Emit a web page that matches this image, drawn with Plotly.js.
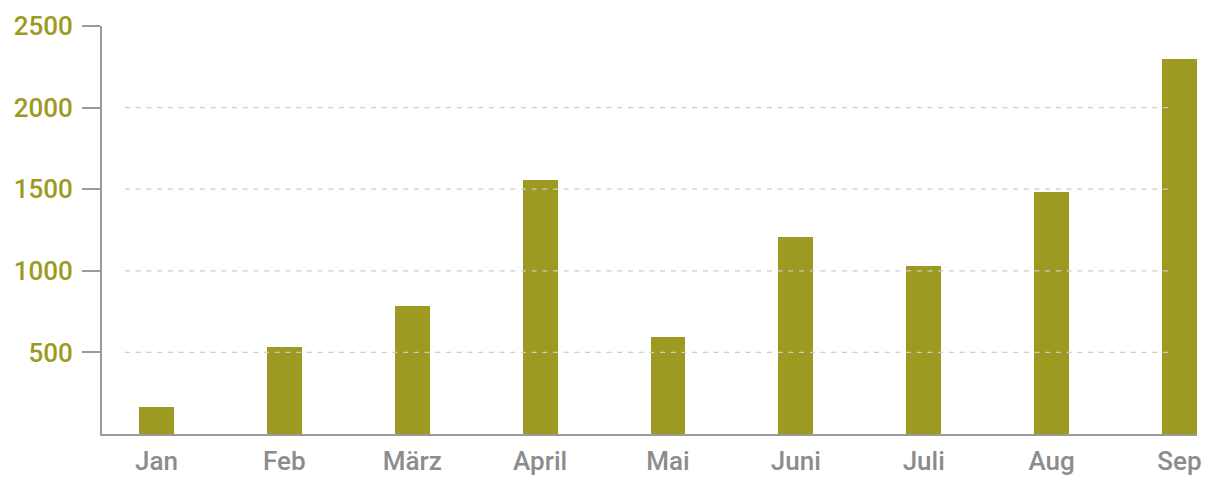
<!DOCTYPE html>
<html>
<head>
<meta charset="utf-8">
<script src="https://cdn.plot.ly/plotly-3.0.1.min.js"></script>
<style>html,body{margin:0;padding:0;background:#fff;}#chart{width:1206px;height:477px;}</style>
</head>
<body>
<div id="chart"></div>
<script>
const months = ["Jan", "Feb", "März", "April", "Mai", "Juni", "Juli", "Aug", "Sep"];
const values = [164, 533, 784, 1556, 594, 1207, 1029, 1485, 2298];
const yTicks = [500, 1000, 1500, 2000, 2500];
const gridValues = [500, 1000, 1500, 2000];

const olive = "#9c9a21";
const axisGray = "#9a9a9a";
const labelGray = "#8c8c8c";
const fontFam = "Roboto, 'Noto Sans', sans-serif";

const trace = {
  type: "bar",
  x: months,
  y: values,
  width: 0.273,
  marker: {color: olive, line: {width: 0}},
  hoverinfo: "x+y"
};

const shapes = gridValues.map(v => ({
  type: "line", xref: "paper", yref: "y",
  x0: 0.021, x1: 0.976, y0: v, y1: v,
  line: {color: "#cccccc", width: 1.3, dash: "5px,5.7px"},
  layer: "above"
}));

const layout = {
  width: 1206, height: 477,
  margin: {l: 102, r: 9, t: 26, b: 43, pad: 0},
  paper_bgcolor: "#ffffff",
  plot_bgcolor: "#ffffff",
  showlegend: false,
  bargap: 0,
  xaxis: {
    type: "category",
    range: [-0.426, 8.137],
    showgrid: false,
    zeroline: false,
    showline: true,
    linecolor: axisGray,
    linewidth: 2,
    ticks: "",
    ticklabelstandoff: 3,
    tickfont: {family: fontFam, size: 26, weight: 500, color: labelGray}
  },
  yaxis: {
    range: [0, 2500],
    tickmode: "array",
    tickvals: yTicks,
    ticktext: yTicks.map(String),
    showgrid: false,
    zeroline: false,
    showline: true,
    linecolor: axisGray,
    linewidth: 2,
    ticks: "outside",
    ticklen: 18,
    tickwidth: 2,
    tickcolor: axisGray,
    ticklabelstandoff: 4,
    tickfont: {family: fontFam, size: 26, weight: 500, color: olive}
  },
  shapes: shapes
};

Plotly.newPlot("chart", [trace], layout, {displayModeBar: false, staticPlot: true});
</script>
</body>
</html>
